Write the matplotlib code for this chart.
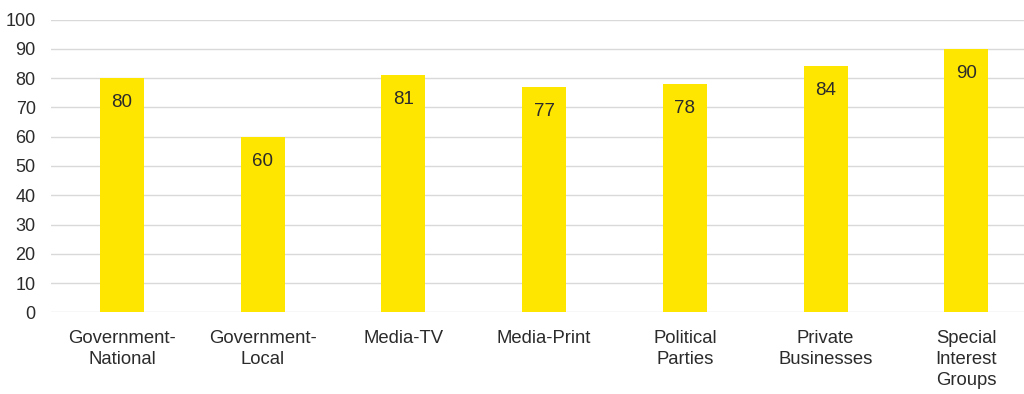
import numpy as np
import matplotlib
matplotlib.use("Agg")
import matplotlib.pyplot as plt

# survey scores per sector
categories = ["Government-\nNational", "Government-\nLocal", "Media-TV", "Media-Print",
              "Political\nParties", "Private\nBusinesses", "Special\nInterest\nGroups"]
values = [80, 60, 81, 77, 78, 84, 90]
yticks = list(range(0, 101, 10))

plt.rcParams['font.family'] = ['Liberation Sans', 'DejaVu Sans']
txt = "#2b2b2b"

fig = plt.figure(figsize=(10.24, 3.94), dpi=100)
ax = fig.add_axes([51/1024, 0.207, (1024-51)/1024, 0.7435])

x = np.arange(len(categories))
bars = ax.bar(x, values, width=0.313, color="#FFE600", zorder=3)

for b, v in zip(bars, values):
    ax.annotate(str(v), (b.get_x() + b.get_width()/2, v), xytext=(0, -11.5),
                textcoords="offset points", ha="center", va="top",
                fontsize=13.5, color=txt, zorder=4)

ax.set_xlim(-0.505, 6.41)
ax.set_ylim(0, 100)
ax.set_yticks(yticks)
ax.set_xticks(x)
ax.set_xticklabels(categories, fontsize=13.3, color=txt, linespacing=1.3)
ax.tick_params(axis="y", length=0, pad=11, labelsize=13, labelcolor=txt)
ax.tick_params(axis="x", length=0, pad=12.5)
ax.grid(axis="y", color="#D9D9D9", linewidth=1.0, zorder=0)
for s in ax.spines.values():
    s.set_visible(False)

fig.savefig("out.png", dpi=100)
